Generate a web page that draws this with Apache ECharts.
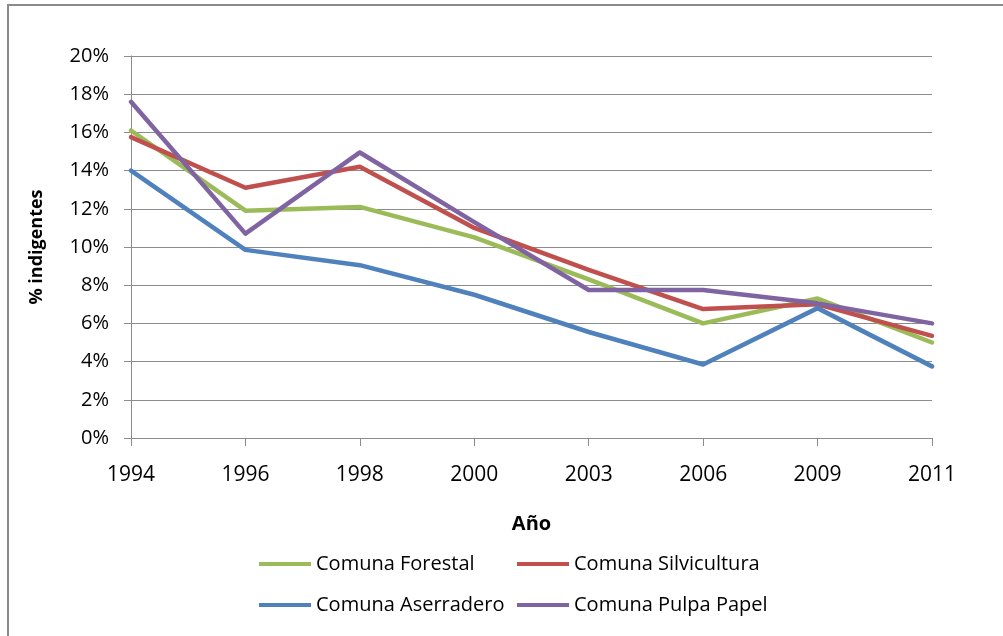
<!DOCTYPE html>
<html>
<head>
<meta charset="utf-8">
<script src="https://cdn.jsdelivr.net/npm/echarts@6/dist/echarts.min.js"></script>
<style>
  html, body { margin: 0; padding: 0; background: #ffffff; }
  #chart { width: 1003px; height: 636px; }
</style>
</head>
<body>
<div id="chart"></div>
<script>
// Años de medición
const years = ['1994', '1996', '1998', '2000', '2003', '2006', '2009', '2011'];

// Porcentaje de indigentes por tipo de comuna
const forestal     = [16.1, 11.9, 12.1, 10.5, 8.3, 6.0, 7.3, 5.0];
const silvicultura = [15.75, 13.1, 14.2, 11.0, 8.8, 6.75, 7.0, 5.35];
const aserradero   = [14.0, 9.85, 9.05, 7.5, 5.55, 3.85, 6.8, 3.75];
const pulpaPapel   = [17.6, 10.7, 14.95, 11.3, 7.75, 7.75, 7.05, 6.0];

// Marcas del eje vertical
const yTicks = { min: 0, max: 20, step: 2 };

const FONT = 'Open Sans';
const GRID_GRAY = '#8c8c8c';

const chart = echarts.init(document.getElementById('chart'), null, { renderer: 'canvas' });

function lineSeries(name, data, color) {
  return {
    name: name,
    type: 'line',
    data: data,
    symbol: 'none',
    smooth: false,
    lineStyle: { color: color, width: 4.5, cap: 'round', join: 'round' },
    itemStyle: { color: color },
    emphasis: { disabled: true }
  };
}

const legendBase = {
  orient: 'vertical',
  top: 554,
  padding: 0,
  icon: 'rect',
  itemWidth: 52,
  itemHeight: 4,
  itemGap: 21,
  textStyle: { fontFamily: FONT, fontSize: 20, color: '#000', lineHeight: 20 },
  selectedMode: false
};

chart.setOption({
  animation: false,
  backgroundColor: '#ffffff',
  grid: { left: 131, top: 56, right: 71, bottom: 198 },
  graphic: [{
    type: 'rect',
    shape: { x: 8, y: 5, width: 1010, height: 700 },
    style: { fill: 'none', stroke: '#8a8a8a', lineWidth: 2 },
    silent: true
  }],
  xAxis: {
    type: 'category',
    data: years,
    boundaryGap: false,
    name: 'Año',
    nameLocation: 'middle',
    nameGap: 76,
    nameTextStyle: { fontFamily: FONT, fontSize: 20, fontWeight: 'bold', color: '#000' },
    axisLine: { show: true, lineStyle: { color: GRID_GRAY, width: 1 } },
    axisTick: { show: true, length: 8, lineStyle: { color: GRID_GRAY } },
    axisLabel: { fontFamily: FONT, fontSize: 21, color: '#000', margin: 27 },
    splitLine: { show: false }
  },
  yAxis: {
    type: 'value',
    min: yTicks.min,
    max: yTicks.max,
    interval: yTicks.step,
    name: '% indigentes',
    nameLocation: 'middle',
    nameGap: 85,
    nameRotate: 90,
    nameTextStyle: { fontFamily: FONT, fontSize: 18, fontWeight: 'bold', color: '#000' },
    axisLine: { show: true, lineStyle: { color: GRID_GRAY, width: 1 } },
    axisTick: { show: true, length: 7, lineStyle: { color: GRID_GRAY } },
    axisLabel: { fontFamily: FONT, fontSize: 20, color: '#000', margin: 22, formatter: '{value}%' },
    splitLine: { show: true, lineStyle: { color: GRID_GRAY, width: 1.2 } }
  },
  legend: [
    Object.assign({}, legendBase, { left: 259, data: ['Comuna Forestal', 'Comuna Aserradero'] }),
    Object.assign({}, legendBase, { left: 517, data: ['Comuna Silvicultura', 'Comuna Pulpa Papel'] })
  ],
  series: [
    lineSeries('Comuna Forestal', forestal, '#9bbb59'),
    lineSeries('Comuna Silvicultura', silvicultura, '#c0504d'),
    lineSeries('Comuna Aserradero', aserradero, '#4f81bd'),
    lineSeries('Comuna Pulpa Papel', pulpaPapel, '#8064a2')
  ]
});
</script>
</body>
</html>
